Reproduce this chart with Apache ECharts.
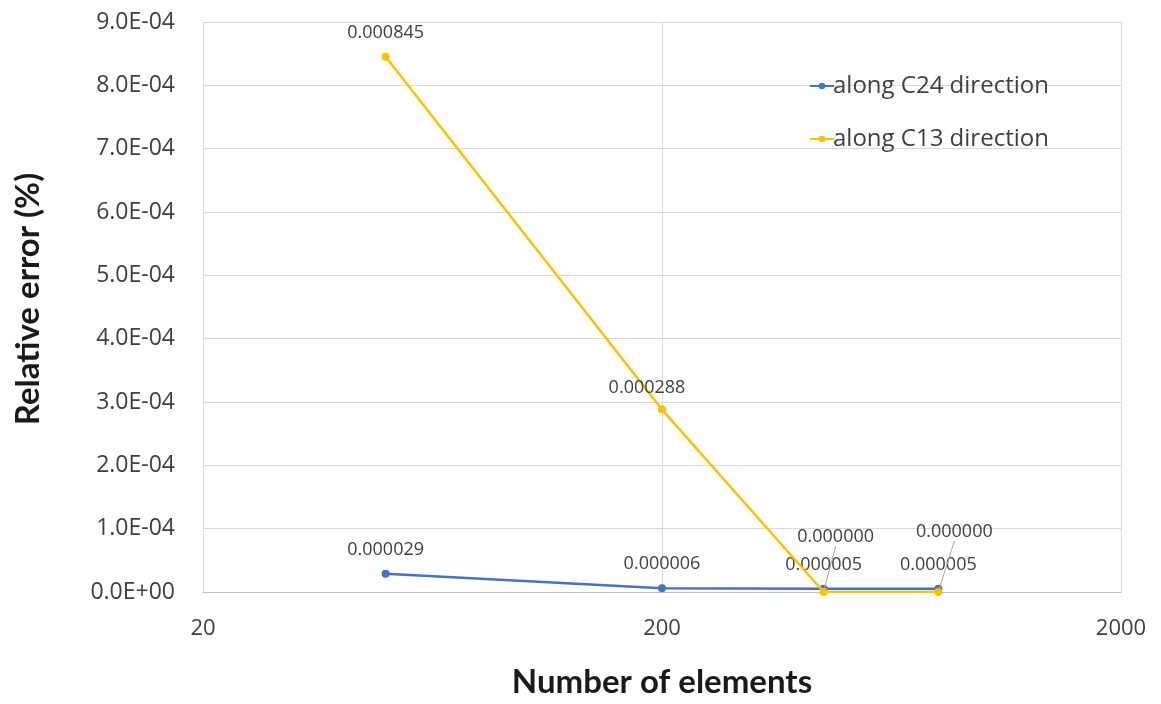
<!DOCTYPE html>
<html>
<head>
<meta charset="utf-8">
<script src="https://cdn.jsdelivr.net/npm/echarts@6/dist/echarts.min.js"></script>
<style>
  html, body { margin: 0; padding: 0; overflow: hidden; background: #ffffff; }
  #chart { width: 1161px; height: 704px; }
</style>
</head>
<body>
<div id="chart"></div>
<script>
// Mesh sizes (number of elements) and relative errors in %
const elements = [50, 200, 450, 800];
const errC24 = [0.000029, 0.000006, 0.000005, 0.000005];
const errC13 = [0.000845, 0.000288, 0.000000, 0.000000];
const xTickValues = [20, 200, 2000];
const seriesNames = ['along C24 direction', 'along C13 direction'];

// Horizontal axis is logarithmic in element count, base value 20
const X_BASE = xTickValues[0];
const toLogX = n => Math.log10(n / X_BASE);
const fromLogX = v => Math.round(X_BASE * Math.pow(10, v));

const fmtExp = v => {
  const s = v.toExponential(1); // e.g. "9.0e-4"
  const m = s.match(/^(-?[\d.]+)e([+-])(\d+)$/);
  return m[1] + 'E' + m[2] + m[3].padStart(2, '0');
};

const labelFont = { fontFamily: 'Open Sans', fontSize: 18, color: '#404040' };
const leader = { show: true, length2: 0, lineStyle: { color: '#a6a6a6', width: 1 } };

// Shift of the near-zero C13 labels so they sit above the C24 labels
const c13Shift = [null, { dx: -15, dy: 2 }, { dx: 12, dy: -31 }, { dx: 16, dy: -36 }];

const chart = echarts.init(document.getElementById('chart'), null, { renderer: 'canvas' });

chart.setOption({
  backgroundColor: '#ffffff',
  animation: false,
  grid: { left: 203, right: 40, top: 22, bottom: 107, containLabel: false },
  legend: {
    orient: 'vertical',
    left: 804,
    top: 69,
    itemGap: 29,
    itemWidth: 24,
    itemHeight: 8,
    textStyle: { fontFamily: 'Open Sans', fontSize: 24, color: '#404040', padding: [0, 0, 0, -6] },
    data: seriesNames
  },
  xAxis: {
    type: 'value',
    min: 0,
    max: toLogX(xTickValues[xTickValues.length - 1]),
    interval: 1,
    name: 'Number of elements',
    nameLocation: 'middle',
    nameGap: 74,
    nameTextStyle: { fontFamily: 'Lato', fontWeight: 'bold', fontSize: 33, color: '#1a1a1a' },
    axisLine: { show: true, lineStyle: { color: '#bfbfbf', width: 1 } },
    axisTick: { show: false },
    axisLabel: {
      formatter: v => String(fromLogX(v)),
      margin: 26,
      fontFamily: 'Open Sans', fontSize: 22, color: '#404040'
    },
    splitLine: { show: true, lineStyle: { color: '#d9d9d9', width: 1 } }
  },
  yAxis: {
    type: 'value',
    min: 0,
    max: 0.0009,
    interval: 0.0001,
    name: 'Relative error (%)',
    nameLocation: 'middle',
    nameGap: 158,
    nameRotate: 90,
    nameTextStyle: { fontFamily: 'Lato', fontWeight: 'bold', fontSize: 33, color: '#1a1a1a', padding: [0, 0, 0, 16] },
    axisLine: { show: false },
    axisTick: { show: false },
    axisLabel: {
      formatter: v => fmtExp(v),
      margin: 28,
      fontFamily: 'Open Sans', fontSize: 23, color: '#404040'
    },
    splitLine: { show: true, lineStyle: { color: '#d9d9d9', width: 1 } }
  },
  series: [
    {
      name: seriesNames[0],
      type: 'line',
      data: elements.map((n, i) => [toLogX(n), errC24[i]]),
      symbol: 'circle',
      symbolSize: 8,
      lineStyle: { color: '#4472C4', width: 2.5 },
      itemStyle: { color: '#4472C4' },
      label: {
        show: true, position: 'top', distance: 11,
        formatter: p => p.value[1].toFixed(6),
        ...labelFont
      },
      z: 2
    },
    {
      name: seriesNames[1],
      type: 'line',
      data: elements.map((n, i) => ({
        value: [toLogX(n), errC13[i]],
        labelLine: i >= 2 ? leader : { show: false }
      })),
      symbol: 'circle',
      symbolSize: 8,
      lineStyle: { color: '#FFC000', width: 2.5 },
      itemStyle: { color: '#FFC000' },
      label: {
        show: true, position: 'top', distance: 11,
        formatter: p => p.value[1].toFixed(6),
        ...labelFont
      },
      labelLayout: p => c13Shift[p.dataIndex] || {},
      z: 3
    }
  ]
});
</script>
</body>
</html>
